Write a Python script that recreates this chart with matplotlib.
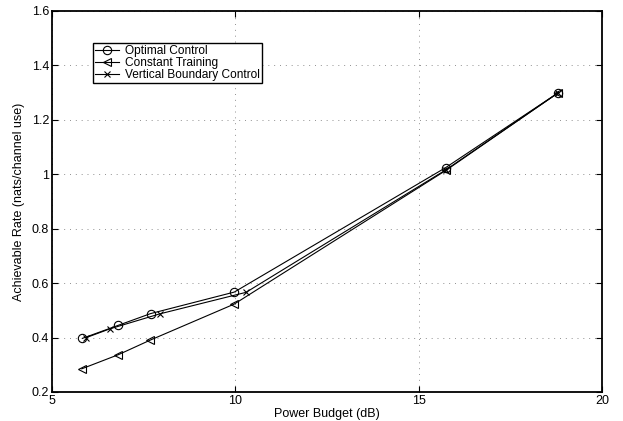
import matplotlib
matplotlib.use("Agg")
import matplotlib.pyplot as plt

plt.rcParams["font.family"] = ["Liberation Sans", "DejaVu Sans"]

# values
opt_x = [5.83, 6.81, 7.69, 9.97, 15.73, 18.81]
opt_y = [0.397, 0.445, 0.488, 0.567, 1.024, 1.30]
const_x = [5.81, 6.81, 7.67, 9.97, 15.75, 18.81]
const_y = [0.285, 0.337, 0.390, 0.523, 1.015, 1.30]
vbc_x = [5.94, 6.58, 7.94, 10.29, 15.75, 18.81]
vbc_y = [0.400, 0.432, 0.487, 0.566, 1.017, 1.30]

xticks = [5, 10, 15, 20]
yticks = [0.2, 0.4, 0.6, 0.8, 1.0, 1.2, 1.4, 1.6]
yticklabels = ["0.2", "0.4", "0.6", "0.8", "1", "1.2", "1.4", "1.6"]

fig = plt.figure(figsize=(6.23, 4.21), dpi=100)
ax = fig.add_axes([0.0835, 0.069, 0.883, 0.905])

ax.plot(opt_x, opt_y, color="black", lw=0.8, marker="o", ms=6,
        mfc="none", mec="black", mew=0.8, label="Optimal Control")
ax.plot(const_x, const_y, color="black", lw=0.8, marker="<", ms=6,
        mfc="none", mec="black", mew=0.8, label="Constant Training")
ax.plot(vbc_x, vbc_y, color="black", lw=0.8, marker="x", ms=5,
        mec="black", mew=0.8, label="Vertical Boundary Control")

ax.set_xlim(5, 20)
ax.set_ylim(0.2, 1.6)
ax.set_xticks(xticks)
ax.set_xticklabels([str(t) for t in xticks])
ax.set_yticks(yticks)
ax.set_yticklabels(yticklabels)
ax.grid(True, color="#909090", linestyle=(0, (1, 5)), linewidth=0.7)
ax.tick_params(direction="in", length=4, width=0.8, labelsize=9,
               top=True, right=True, pad=2)
for s in ax.spines.values():
    s.set_linewidth(1.3)

ax.set_xlabel("Power Budget (dB)", fontsize=9, labelpad=1)
ax.set_ylabel("Achievable Rate (nats/channel use)", fontsize=9, labelpad=5)

leg = ax.legend(loc="upper left", bbox_to_anchor=(0.074, 0.917),
                borderaxespad=0, fontsize=8.6, handlelength=2.0,
                handletextpad=0.5, borderpad=0.2, labelspacing=0.0,
                fancybox=False, framealpha=1, edgecolor="black")
leg.get_frame().set_linewidth(1.0)

fig.savefig("out.png", dpi=100)
